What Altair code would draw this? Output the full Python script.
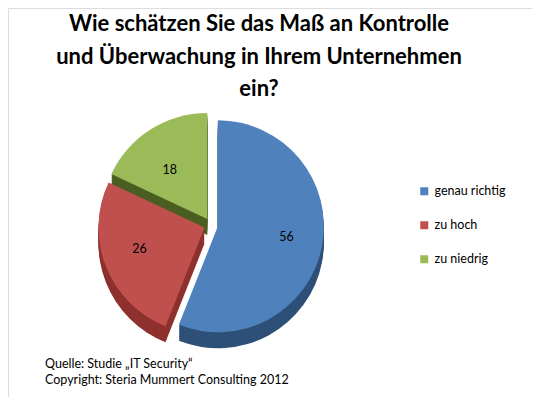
import math
import altair as alt
import pandas as pd

# ---- data ----
categories = ["genau richtig", "zu hoch", "zu niedrig"]
values = [56, 26, 18]
colors = ["#4F81BD", "#C0504D", "#9BBB59"]
side_colors = ["#2E5078", "#8E302D", "#4B5E22"]
title_lines = ["Wie schätzen Sie das Maß an Kontrolle",
               "und Überwachung in Ihrem Unternehmen",
               "ein?"]
footer_lines = ["Quelle: Studie „IT Security“",
                "Copyright: Steria Mummert Consulting 2012"]

W, H = 524, 389
CX, CY, R = 203, 217, 106
EXPLODE = 7
DEPTH = 16
FONT = "Lato"

df = pd.DataFrame({"cat": categories, "val": values, "side": side_colors,
                   "order": list(range(len(values)))})

base = (
    alt.Chart(df)
    .transform_joinaggregate(total="sum(val)")
    .transform_window(cumend="sum(val)", sort=[alt.SortField("order")],
                      frame=[None, 0])
    .transform_calculate(
        a0="2*PI*(datum.cumend - datum.val)/datum.total",
        a1="2*PI*datum.cumend/datum.total",
    )
    .transform_calculate(mid="(datum.a0 + datum.a1)/2")
    .transform_calculate(
        cx=f"{CX} + {EXPLODE}*sin(datum.mid)",
        cy=f"{CY} - {EXPLODE}*cos(datum.mid)",
    )
)

layers = []
# side (depth) layers, drawn from bottom up
for d in range(DEPTH, 0, -2):
    layers.append(
        base.transform_calculate(cyd=f"datum.cy + {d}")
        .mark_arc(outerRadius=R)
        .encode(
            theta=alt.Theta("a0:Q", scale=None),
            theta2="a1:Q",
            x=alt.X("cx:Q", scale=None),
            y=alt.Y("cyd:Q", scale=None),
            fill=alt.Fill("side:N", scale=None, legend=None),
        )
    )

top = base.mark_arc(outerRadius=R).encode(
    theta=alt.Theta("a0:Q", scale=None),
    theta2="a1:Q",
    x=alt.X("cx:Q", scale=None),
    y=alt.Y("cy:Q", scale=None),
    color=alt.Color(
        "cat:N",
        scale=alt.Scale(domain=categories, range=colors),
        legend=alt.Legend(
            orient="none", legendX=410, legendY=177, title=None,
            symbolType="square", symbolSize=64, symbolStrokeWidth=0,
            labelFontSize=12.5, labelFont=FONT, labelColor="#000",
            rowPadding=21, labelOffset=4,
        ),
    ),
)

labels = (
    base.transform_calculate(
        tx=f"datum.cx + {0.66 * R}*sin(datum.mid)",
        ty=f"datum.cy - {0.55 * R}*cos(datum.mid)",
    )
    .mark_text(font=FONT, fontSize=12.5, color="#000")
    .encode(x=alt.X("tx:Q", scale=None), y=alt.Y("ty:Q", scale=None),
            text="val:Q")
)

tdf = pd.DataFrame({"t": title_lines, "i": list(range(len(title_lines)))})
title = (
    alt.Chart(tdf)
    .transform_calculate(ty="23 + datum.i*32.5")
    .mark_text(font=FONT, fontSize=22, fontWeight="bold", color="#000",
               baseline="alphabetic", align="center")
    .encode(x=alt.value(251), y=alt.Y("ty:Q", scale=None), text="t:N")
)

fdf = pd.DataFrame({"t": footer_lines, "i": list(range(len(footer_lines)))})
footer = (
    alt.Chart(fdf)
    .transform_calculate(ty="360 + datum.i*16")
    .mark_text(font=FONT, fontSize=12.5, color="#000",
               baseline="alphabetic", align="left")
    .encode(x=alt.value(37), y=alt.Y("ty:Q", scale=None), text="t:N")
)

chart = (
    alt.layer(*layers, top, labels, title, footer)
    .properties(width=W, height=H, autosize=alt.AutoSizeParams(type="none"),
                padding=0)
    .configure_view(stroke="#555", strokeWidth=1.5)
    .configure(background="white")
)

chart.save("out.html", embed_options={"renderer": "svg", "actions": False})
